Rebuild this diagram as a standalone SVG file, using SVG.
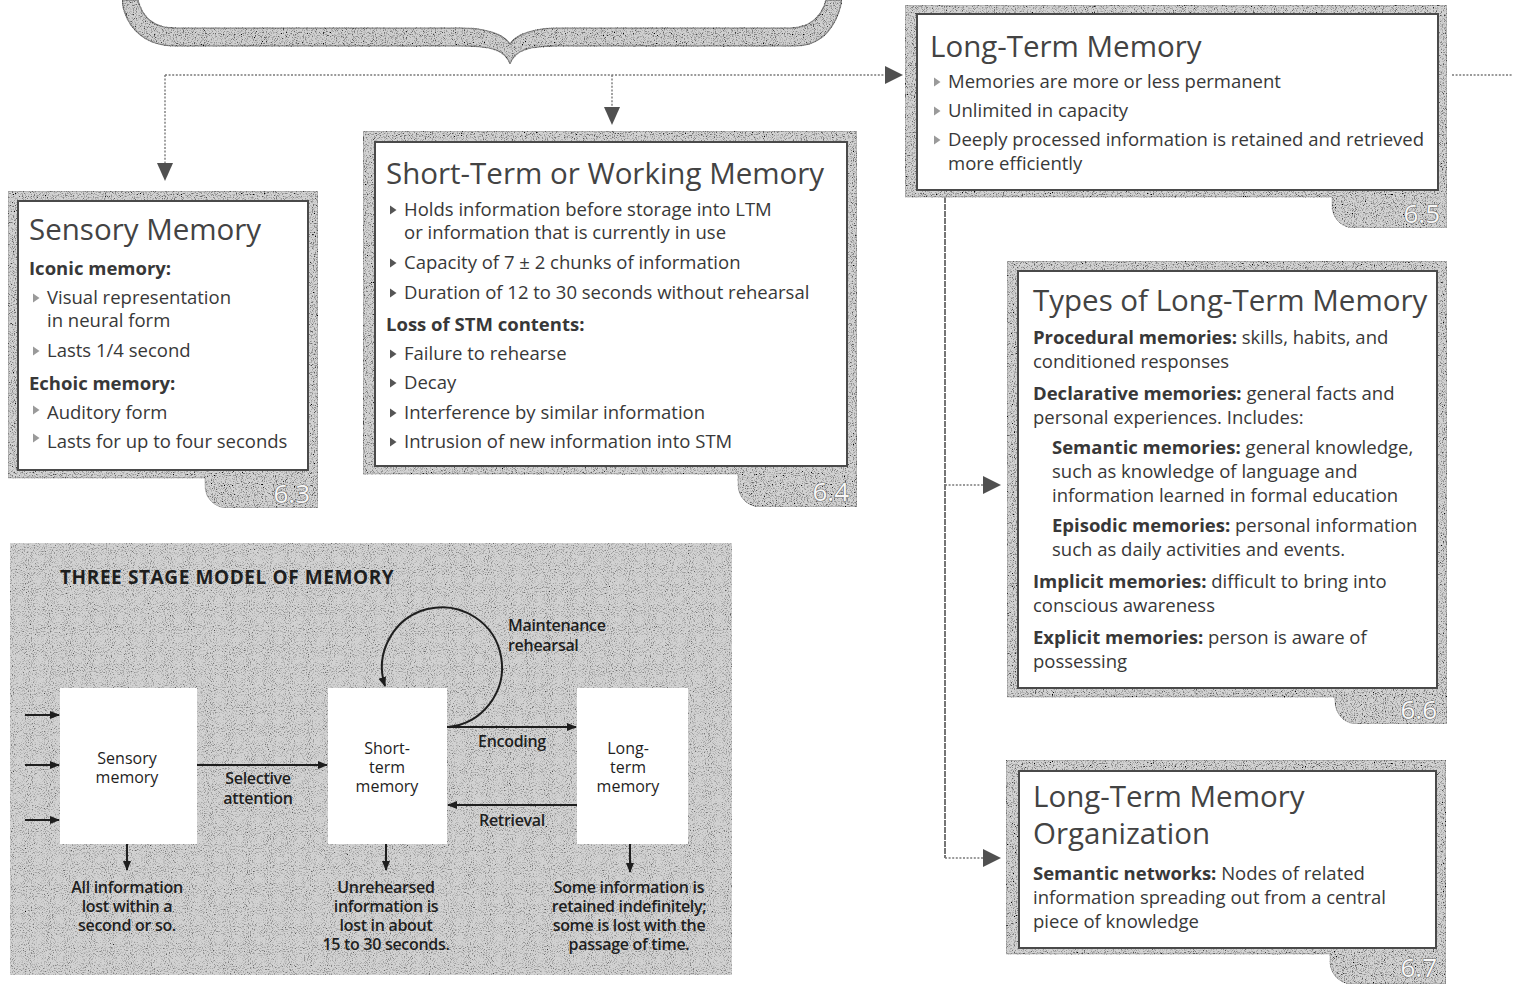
<svg xmlns="http://www.w3.org/2000/svg" width="1513" height="984" viewBox="0 0 1513 984">
  <defs>
    <style>
      .t { font-family: "Open Sans", "Noto Sans", "DejaVu Sans", sans-serif; fill: #383838; }
      .title { font-size: 29.5px; fill: #434343; }
      .body { font-size: 18.5px; }
      .b { font-weight: 700; }
      .tab { font-family: "Open Sans", "Noto Sans", sans-serif; font-size: 26px; fill: #f6f6f6; stroke: #6a6a6a; stroke-width: 1.2; paint-order: stroke; text-anchor: end; }
      .frame { fill: #d3d3d3; stroke: #9a9a9a; stroke-width: 1; }
      .inner { fill: #ffffff; stroke: #4a4a4a; stroke-width: 2; }
      .dot { fill: none; stroke: #7a7a7a; stroke-width: 1.4; stroke-dasharray: 2 1.6; }
      .head { fill: #505050; }
      .bul { fill: #9a9a9a; }
      .bulD { fill: #555555; }
      .p { font-family: "Open Sans", "Noto Sans", sans-serif; fill: #1e1e1e; font-size: 16px; text-anchor: middle; }
      .pb { font-weight: 600; letter-spacing: -0.3px; }
      .pl { fill: none; stroke: #1e1e1e; stroke-width: 2; }
    </style>
    <!-- speckled print texture: noise multiplied into the fill colour -->
    <filter id="grain" x="0" y="0" width="100%" height="100%">
      <feTurbulence type="fractalNoise" baseFrequency="0.9" numOctaves="2" seed="4" result="t"/>
      <feColorMatrix in="t" type="matrix" values="1 0 0 0 0  1 0 0 0 0  1 0 0 0 0  0 0 0 0 1" result="g"/>
      <feComponentTransfer in="g" result="c">
        <feFuncR type="linear" slope="3" intercept="-0.55"/>
        <feFuncG type="linear" slope="3" intercept="-0.55"/>
        <feFuncB type="linear" slope="3" intercept="-0.55"/>
      </feComponentTransfer>
      <feBlend in="SourceGraphic" in2="c" mode="multiply" result="m"/>
      <feComposite in="m" in2="SourceAlpha" operator="in"/>
    </filter>
    <filter id="grainLight" x="0" y="0" width="100%" height="100%">
      <feTurbulence type="fractalNoise" baseFrequency="0.95" numOctaves="2" seed="9" result="t"/>
      <feColorMatrix in="t" type="matrix" values="1 0 0 0 0  1 0 0 0 0  1 0 0 0 0  0 0 0 0 1" result="g"/>
      <feComponentTransfer in="g" result="c">
        <feFuncR type="linear" slope="2.4" intercept="-0.2"/>
        <feFuncG type="linear" slope="2.4" intercept="-0.2"/>
        <feFuncB type="linear" slope="2.4" intercept="-0.2"/>
      </feComponentTransfer>
      <feBlend in="SourceGraphic" in2="c" mode="multiply" result="m"/>
      <feComposite in="m" in2="SourceAlpha" operator="in"/>
    </filter>
    <path id="bt" d="M0 -4.5 L6.5 0 L0 4.5 Z"/>
    <marker id="ah" viewBox="0 0 10 10" refX="9" refY="5" markerWidth="10" markerHeight="10" markerUnits="userSpaceOnUse" orient="auto">
      <path d="M0 1 L10 5 L0 9 Z" fill="#1e1e1e"/>
    </marker>
  </defs>

  <rect width="1513" height="984" fill="#ffffff"/>

  <!-- curly brace gathering the three stores -->
  <g id="brace">
    <path d="M122 0 C124 22 140 46 175 46 L462 46 C492 46 505 50 510 64 C515 50 528 46 558 46 L795 46 C825 46 838 22 842 0 L826 0 C822 16 810 28 790 28 L558 28 C535 28 516 34 510 44 C504 34 485 28 462 28 L175 28 C152 28 142 16 138 0 Z" fill="#d0d0d0" stroke="#8a8a8a" stroke-width="1.5" filter="url(#grain)"/>
  </g>

  <!-- connectors -->
  <g id="connectors">
    <path class="dot" d="M165 75 H886"/>
    <polygon class="head" points="885,66 903,75 885,84"/>
    <path class="dot" d="M165 75 V164"/>
    <polygon class="head" points="157,163 173,163 165,181"/>
    <path class="dot" d="M612 75 V108"/>
    <polygon class="head" points="604,107 620,107 612,125"/>
    <path class="dot" d="M1452 75 H1513"/>
    <path d="M945 197 V858" fill="none" stroke="#767676" stroke-width="2" stroke-dasharray="6 1"/>
    <path class="dot" d="M945 485 H984"/>
    <polygon class="head" points="983,476 1001,485 983,494"/>
    <path class="dot" d="M945 858 H984"/>
    <polygon class="head" points="983,849 1001,858 983,867"/>
  </g>

  <!-- Sensory Memory -->
  <g id="sensory">
    <path class="frame" filter="url(#grain)" d="M8 191 H318 V508 H227 A22 22 0 0 1 205 486 V478 H8 Z"/>
    <rect class="inner" x="18" y="201" width="290" height="269"/>
    <text class="tab" x="310" y="503">6.3</text>
    <text class="t title" x="29" y="240">Sensory Memory</text>
    <text class="t body b" x="29" y="275">Iconic memory:</text>
    <use href="#bt" class="bul" x="33" y="298"/>
    <text class="t body" x="47" y="304">Visual representation<tspan x="47" dy="23">in neural form</tspan></text>
    <use href="#bt" class="bul" x="33" y="351"/>
    <text class="t body" x="47" y="357">Lasts 1/4 second</text>
    <text class="t body b" x="29" y="390">Echoic memory:</text>
    <use href="#bt" class="bul" x="33" y="410"/>
    <text class="t body" x="47" y="419">Auditory form</text>
    <use href="#bt" class="bul" x="33" y="438"/>
    <text class="t body" x="47" y="448">Lasts for up to four seconds</text>
  </g>

  <!-- Short-Term or Working Memory -->
  <g id="stm">
    <path class="frame" filter="url(#grain)" d="M363 131 H857 V507 H760 A22 22 0 0 1 738 485 V474 H363 Z"/>
    <rect class="inner" x="375" y="142" width="472" height="324"/>
    <text class="tab" x="849" y="501">6.4</text>
    <text class="t title" x="386" y="184">Short-Term or Working Memory</text>
    <use href="#bt" class="bulD" x="390" y="210"/>
    <text class="t body" x="404" y="216">Holds information before storage into LTM<tspan x="404" dy="23">or information that is currently in use</tspan></text>
    <use href="#bt" class="bulD" x="390" y="263"/>
    <text class="t body" x="404" y="269">Capacity of 7 ± 2 chunks of information</text>
    <use href="#bt" class="bulD" x="390" y="293"/>
    <text class="t body" x="404" y="299">Duration of 12 to 30 seconds without rehearsal</text>
    <text class="t body b" x="386" y="331">Loss of STM contents:</text>
    <use href="#bt" class="bulD" x="390" y="354"/>
    <text class="t body" x="404" y="360">Failure to rehearse</text>
    <use href="#bt" class="bulD" x="390" y="383"/>
    <text class="t body" x="404" y="389">Decay</text>
    <use href="#bt" class="bulD" x="390" y="413"/>
    <text class="t body" x="404" y="419">Interference by similar information</text>
    <use href="#bt" class="bulD" x="390" y="442"/>
    <text class="t body" x="404" y="448">Intrusion of new information into STM</text>
  </g>

  <!-- Long-Term Memory -->
  <g id="ltm">
    <path class="frame" filter="url(#grain)" d="M905 5 H1447 V228 H1354 A22 22 0 0 1 1332 206 V197 H905 Z"/>
    <rect class="inner" x="917" y="14" width="521" height="176"/>
    <text class="tab" x="1440" y="223">6.5</text>
    <text class="t title" x="930" y="57">Long-Term Memory</text>
    <use href="#bt" class="bul" x="934" y="82"/>
    <text class="t body" x="948" y="88">Memories are more or less permanent</text>
    <use href="#bt" class="bul" x="934" y="111"/>
    <text class="t body" x="948" y="117">Unlimited in capacity</text>
    <use href="#bt" class="bul" x="934" y="140"/>
    <text class="t body" x="948" y="146">Deeply processed information is retained and retrieved<tspan x="948" dy="24">more efficiently</tspan></text>
  </g>

  <!-- Types of Long-Term Memory -->
  <g id="ltm-types">
    <path class="frame" filter="url(#grain)" d="M1007 261 H1447 V724 H1357 A22 22 0 0 1 1335 702 V697 H1007 Z"/>
    <rect class="inner" x="1018" y="271" width="419" height="417"/>
    <text class="tab" x="1437" y="719">6.6</text>
    <text class="t title" x="1033" y="311">Types of Long-Term Memory</text>
    <text class="t body" x="1033" y="344"><tspan class="b">Procedural memories:</tspan> skills, habits, and<tspan x="1033" dy="24">conditioned responses</tspan></text>
    <text class="t body" x="1033" y="400"><tspan class="b">Declarative memories:</tspan> general facts and<tspan x="1033" dy="24">personal experiences. Includes:</tspan></text>
    <text class="t body" x="1052" y="454"><tspan class="b">Semantic memories:</tspan> general knowledge,<tspan x="1052" dy="24">such as knowledge of language and</tspan><tspan x="1052" dy="24">information learned in formal education</tspan></text>
    <text class="t body" x="1052" y="532"><tspan class="b">Episodic memories:</tspan> personal information<tspan x="1052" dy="24">such as daily activities and events.</tspan></text>
    <text class="t body" x="1033" y="588"><tspan class="b">Implicit memories:</tspan> difficult to bring into<tspan x="1033" dy="24">conscious awareness</tspan></text>
    <text class="t body" x="1033" y="644"><tspan class="b">Explicit memories:</tspan> person is aware of<tspan x="1033" dy="24">possessing</tspan></text>
  </g>

  <!-- Long-Term Memory Organization -->
  <g id="ltm-organization">
    <path class="frame" filter="url(#grain)" d="M1006 760 H1446 V984 H1352 A22 22 0 0 1 1330 962 V954 H1006 Z"/>
    <rect class="inner" x="1019" y="771" width="417" height="177"/>
    <text class="tab" x="1437" y="977">6.7</text>
    <text class="t title" x="1033" y="807">Long-Term Memory<tspan x="1033" dy="37">Organization</tspan></text>
    <text class="t body" x="1033" y="880"><tspan class="b">Semantic networks:</tspan> Nodes of related<tspan x="1033" dy="24">information spreading out from a central</tspan><tspan x="1033" dy="24">piece of knowledge</tspan></text>
  </g>

  <!-- Three stage model figure -->
  <g id="three-stage-model">
    <rect x="10" y="543" width="722" height="432" fill="#d2d2d2" filter="url(#grainLight)"/>
    <text class="p" x="60" y="584" style="text-anchor:start;font-weight:700;font-size:19px;letter-spacing:0.6px">THREE STAGE MODEL OF MEMORY</text>

    <g id="box-sensory">
      <rect x="60" y="688" width="137" height="156" fill="#ffffff"/>
      <text class="p" x="127" y="764">Sensory<tspan x="127" dy="19">memory</tspan></text>
    </g>
    <g id="box-short-term">
      <rect x="328" y="688" width="119" height="156" fill="#ffffff"/>
      <text class="p" x="387" y="754">Short-<tspan x="387" dy="19">term</tspan><tspan x="387" dy="19">memory</tspan></text>
    </g>
    <g id="box-long-term">
      <rect x="577" y="688" width="111" height="156" fill="#ffffff"/>
      <text class="p" x="628" y="754">Long-<tspan x="628" dy="19">term</tspan><tspan x="628" dy="19">memory</tspan></text>
    </g>

    <g id="model-arrows">
      <path class="pl" d="M25 715 H59" marker-end="url(#ah)"/>
      <path class="pl" d="M25 765 H59" marker-end="url(#ah)"/>
      <path class="pl" d="M25 820 H59" marker-end="url(#ah)"/>
      <path class="pl" d="M197 765 H327" marker-end="url(#ah)"/>
      <path class="pl" d="M447 727 H576" marker-end="url(#ah)"/>
      <path class="pl" d="M577 805 H448" marker-end="url(#ah)"/>
      <path class="pl" d="M448 727 A60 60 0 1 0 385 686" marker-end="url(#ah)"/>
      <path class="pl" d="M127 844 V870" marker-end="url(#ah)"/>
      <path class="pl" d="M386 844 V870" marker-end="url(#ah)"/>
      <path class="pl" d="M630 844 V872" marker-end="url(#ah)"/>
    </g>

    <text class="p pb" x="508" y="631" style="text-anchor:start">Maintenance<tspan x="508" dy="20">rehearsal</tspan></text>
    <text class="p pb" x="512" y="747">Encoding</text>
    <text class="p pb" x="512" y="826">Retrieval</text>
    <text class="p pb" x="258" y="784">Selective<tspan x="258" dy="20">attention</tspan></text>

    <text class="p pb" x="127" y="893">All information<tspan x="127" dy="19">lost within a</tspan><tspan x="127" dy="19">second or so.</tspan></text>
    <text class="p pb" x="386" y="893">Unrehearsed<tspan x="386" dy="19">information is</tspan><tspan x="386" dy="19">lost in about</tspan><tspan x="386" dy="19">15 to 30 seconds.</tspan></text>
    <text class="p pb" x="629" y="893">Some information is<tspan x="629" dy="19">retained indefinitely;</tspan><tspan x="629" dy="19">some is lost with the</tspan><tspan x="629" dy="19">passage of time.</tspan></text>
  </g>
</svg>
